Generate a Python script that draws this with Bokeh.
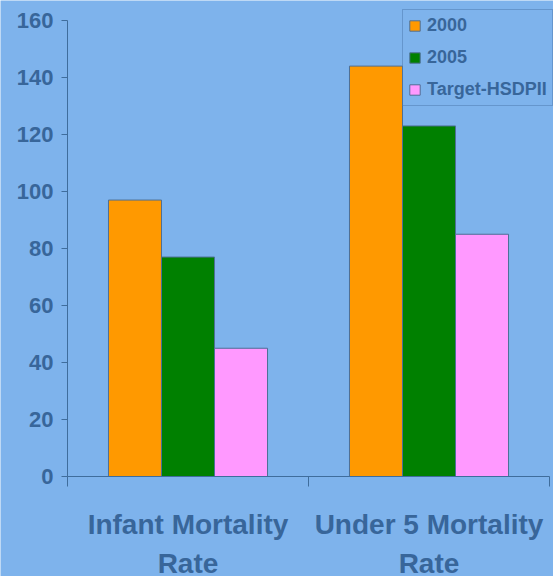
from bokeh.plotting import figure
from bokeh.models import Range1d, FixedTicker, Legend, LegendItem, LinearAxis
from bokeh.embed import file_html
from bokeh.resources import INLINE

# ---- data ----
categories = ["Infant Mortality\nRate", "Under 5 Mortality\nRate"]
series_names = ["2000", "2005", "Target-HSDPII"]
values_2000 = [97, 144]
values_2005 = [77, 123]
values_target = [45, 85]
series_values = [values_2000, values_2005, values_target]
series_colors = ["#ff9900", "#008000", "#ff99ff"]
y_ticks = [0, 20, 40, 60, 80, 100, 120, 140, 160]

# ---- style / layout ----
BG = "#7eb3ec"
TXT = "#38669a"
AXIS = "#3f6d9c"
FONT = "Liberation Sans"
PX_PER_UNIT = 456 / 160          # vertical scale of the value axis
Y_LO = -100 / PX_PER_UNIT        # room below the baseline for category labels
Y_HI = 160 + 20 / PX_PER_UNIT    # room above the top tick for the legend
PX_PER_CAT = 241                 # horizontal width of one category
X_LO = -67 / PX_PER_CAT          # room left of the value axis for tick labels
X_HI = 486 / PX_PER_CAT

bar_w = 0.22
offsets = [-bar_w, 0.0, bar_w]

p = figure(width=553, height=576, output_backend="svg", toolbar_location=None,
           x_range=Range1d(X_LO, X_HI), y_range=Range1d(Y_LO, Y_HI),
           x_axis_location=None, y_axis_location=None,
           min_border_left=0, min_border_right=0, min_border_top=0,
           min_border_bottom=0)
p.background_fill_color = BG
p.border_fill_color = BG
p.outline_line_color = None
p.xgrid.visible = False
p.ygrid.visible = False

renderers = []
for i, (vals, col) in enumerate(zip(series_values, series_colors)):
    xs = [j + 0.5 + offsets[i] for j in range(len(categories))]
    r = p.vbar(x=xs, top=vals, bottom=0, width=bar_w, fill_color=col,
               line_color="#4d6f96", line_width=1)
    renderers.append(r)

# y axis at category position 0
yaxis = LinearAxis(fixed_location=0, ticker=FixedTicker(ticks=y_ticks),
                   bounds=(y_ticks[0], y_ticks[-1]))
yaxis.major_label_text_font = FONT
yaxis.major_label_text_font_style = "bold"
yaxis.major_label_text_font_size = "22px"
yaxis.major_label_text_color = TXT
yaxis.axis_line_color = AXIS
yaxis.major_tick_line_color = AXIS
yaxis.major_tick_in = 0
yaxis.major_tick_out = 6
yaxis.minor_tick_line_color = None
yaxis.major_label_standoff = 8
p.add_layout(yaxis, "left")

# x axis at value 0: labels at category centres, ticks at boundaries
centres = [j + 0.5 for j in range(len(categories))]
bounds_ticks = list(range(len(categories) + 1))
xaxis = LinearAxis(fixed_location=0,
                   ticker=FixedTicker(ticks=centres, minor_ticks=bounds_ticks),
                   major_label_overrides={c: cat for c, cat in zip(centres, categories)},
                   bounds=(bounds_ticks[0], bounds_ticks[-1]))
xaxis.axis_line_color = AXIS
xaxis.major_tick_line_color = None
xaxis.major_tick_in = 0
xaxis.major_tick_out = 0
xaxis.minor_tick_line_color = AXIS
xaxis.minor_tick_in = 0
xaxis.minor_tick_out = 10
xaxis.major_label_standoff = 22
xaxis.major_label_text_font = FONT
xaxis.major_label_text_font_style = "bold"
xaxis.major_label_text_font_size = "28px"
xaxis.major_label_text_color = TXT
xaxis.major_label_text_line_height = 1.28
p.add_layout(xaxis, "below")

legend = Legend(items=[LegendItem(label=n, renderers=[r])
                       for n, r in zip(series_names, renderers)],
                location=(402, 470))
legend.glyph_width = 13
legend.glyph_height = 13
legend.label_text_font = FONT
legend.label_text_font_style = "bold"
legend.label_text_font_size = "18px"
legend.label_text_color = TXT
legend.label_standoff = 6
legend.label_height = 21
legend.spacing = 11
legend.padding = 5
legend.margin = 0
legend.border_line_color = "#4b79ad"
legend.background_fill_alpha = 0
p.add_layout(legend)

open("out.html", "w").write(file_html(p, INLINE))
